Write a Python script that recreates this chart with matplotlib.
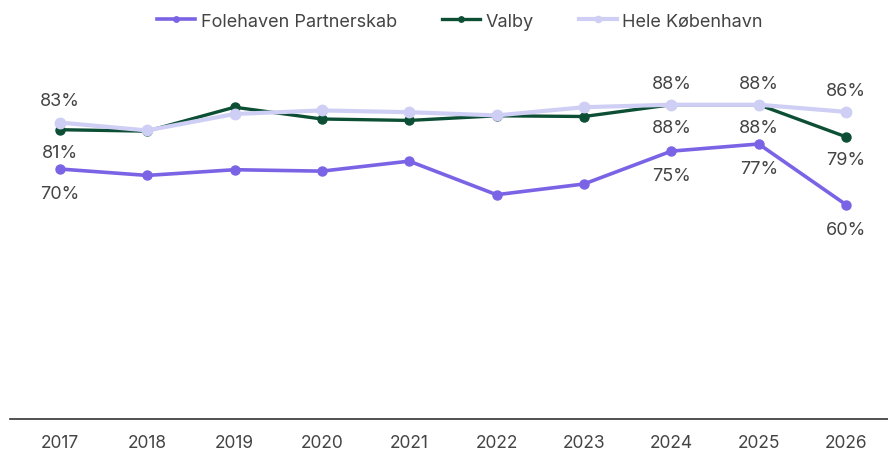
import matplotlib.pyplot as plt

years = [2017, 2018, 2019, 2020, 2021, 2022, 2023, 2024, 2025, 2026]
folehaven = [70, 68.2, 69.8, 69.4, 72.2, 62.8, 65.8, 75, 77, 60]
valby = [81, 80.6, 87.3, 84.0, 83.6, 84.9, 84.7, 88, 88, 79]
hele_kbh = [83, 80.8, 85.4, 86.4, 85.9, 85.0, 87.3, 88, 88, 86]

# which years get a value label
label_years = [2017, 2024, 2025, 2026]

c_fole = "#7b63e6"
c_valby = "#0d4f35"
c_hele = "#cfcff5"
txt = "#444444"

plt.rcParams["font.family"] = ["Inter", "DejaVu Sans"]

fig = plt.figure(figsize=(8.88, 4.52), dpi=100)
ax = fig.add_axes([10 / 888, 32 / 452, 878 / 888, 420 / 452])

lv, = ax.plot(years, valby, color=c_valby, lw=2.4, marker="o", ms=6.5,
              label="Valby", zorder=3)
lh, = ax.plot(years, hele_kbh, color=c_hele, lw=3, marker="o", ms=7.5,
              label="Hele København", zorder=4)
lf, = ax.plot(years, folehaven, color=c_fole, lw=2.6, marker="o", ms=6.5,
              label="Folehaven Partnerskab", zorder=5)

for i, yr in enumerate(years):
    if yr not in label_years:
        continue
    ax.annotate(f"{hele_kbh[i]:.0f}%", (yr, hele_kbh[i]), xytext=(0, 9.5),
                textcoords="offset points", ha="center", va="bottom",
                fontsize=13, color=txt)
    ax.annotate(f"{valby[i]:.0f}%", (yr, valby[i]), xytext=(0, -10.5),
                textcoords="offset points", ha="center", va="top",
                fontsize=13, color=txt)
    ax.annotate(f"{folehaven[i]:.0f}%", (yr, folehaven[i]), xytext=(0, -11.5),
                textcoords="offset points", ha="center", va="top",
                fontsize=13, color=txt)

ax.set_xlim(2016.43, 2026.48)
ax.set_ylim(0, 117.6)
ax.set_xticks(years)
ax.set_xticklabels([str(y) for y in years], fontsize=12.5, color=txt)
ax.tick_params(axis="x", length=0, pad=11)
ax.set_yticks([])
for s in ["top", "left", "right"]:
    ax.spines[s].set_visible(False)
ax.spines["bottom"].set_color("#333333")
ax.spines["bottom"].set_linewidth(1.2)

fig.legend(handles=[lf, lv, lh], loc="center", bbox_to_anchor=(0.518, 0.951),
           ncol=3, frameon=False, fontsize=13, handlelength=2.1,
           handletextpad=0.3, columnspacing=2.5, markerscale=0.6,
           labelcolor=txt)

fig.savefig("out.png", dpi=100)
